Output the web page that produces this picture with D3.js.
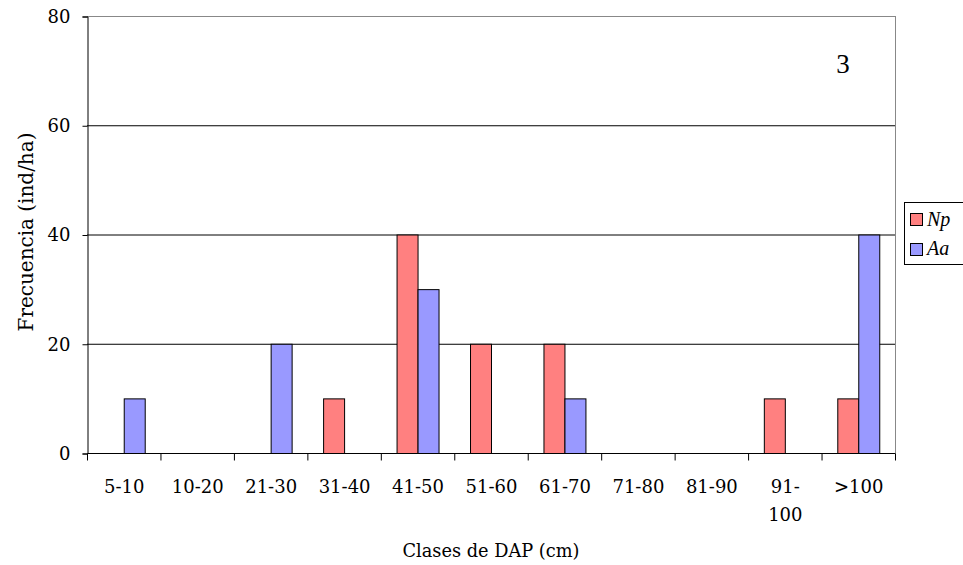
<!DOCTYPE html>
<html><head><meta charset="utf-8">
<script src="https://cdn.jsdelivr.net/npm/d3@7"></script>
<style>body{margin:0;background:#fff}svg{display:block}</style>
</head><body>
<script>
const categories = ["5-10","10-20","21-30","31-40","41-50","51-60","61-70","71-80","81-90","91-100",">100"];
const seriesNames = ["Np","Aa"];
const npValues = [0,0,0,10,40,20,20,0,0,10,10];
const aaValues = [10,0,20,0,30,0,10,0,0,0,40];
const yTicks = [0,20,40,60,80];
const colors = {Np:"#FF8080", Aa:"#9999FF"};

const W=963,H=565;
const m={left:87,right:895,top:16,bottom:453};
const svg=d3.select("body").append("svg").attr("width",W).attr("height",H);
const x=d3.scaleBand().domain(categories).range([m.left,m.right]).padding(0);
const y=d3.scaleLinear().domain([0,80]).range([m.bottom,m.top]);
const groupW=x.bandwidth()*2/3.5;
const xs=d3.scaleBand().domain(seriesNames).range([0,groupW]).padding(0);
const numFont="'DejaVu Serif', Georgia, serif";
const txtFont="'Liberation Serif','Times New Roman', serif";

// gridlines
svg.append("g").selectAll("line").data(yTicks.filter(d=>d>0)).join("line")
  .attr("x1",m.left).attr("x2",m.right).attr("y1",d=>y(d)+0.5).attr("y2",d=>y(d)+0.5)
  .attr("stroke",d=>d===80?"#888":"#000").attr("stroke-width",1);
// right border
svg.append("line").attr("x1",m.right+0.5).attr("x2",m.right+0.5).attr("y1",m.top).attr("y2",m.bottom)
  .attr("stroke","#888");

const data=categories.map((c,i)=>({c,Np:npValues[i],Aa:aaValues[i]}));
const g=svg.append("g");
data.forEach(d=>{
  seriesNames.forEach(s=>{
    if(d[s]>0){
      g.append("rect")
        .attr("x",x(d.c)+(x.bandwidth()-groupW)/2+xs(s)+0.5)
        .attr("y",y(d[s])+0.5)
        .attr("width",xs.bandwidth())
        .attr("height",y(0)-y(d[s]))
        .attr("fill",colors[s]).attr("stroke","#000").attr("stroke-width",1);
    }
  });
});

// y axis
const ya=svg.append("g").attr("transform",`translate(${m.left+0.5},0.5)`)
  .call(d3.axisLeft(y).tickValues(yTicks).tickSize(5).tickPadding(12).tickFormat(d3.format("d")));
ya.select(".domain").attr("stroke","#000");
ya.selectAll("text").attr("font-family",numFont).attr("font-size",18).attr("fill","#000");

// x axis
const xa=svg.append("g").attr("transform",`translate(0.5,${m.bottom+0.5})`);
xa.append("line").attr("x1",m.left).attr("x2",m.right).attr("stroke","#000");
const tickPos=categories.map(c=>x(c)).concat([m.right]);
xa.selectAll("line.t").data(tickPos).join("line").attr("class","t")
  .attr("x1",d=>d).attr("x2",d=>d).attr("y1",0).attr("y2",7).attr("stroke","#000");
xa.selectAll("text").data(categories).join("text")
  .attr("x",d=>x(d)+x.bandwidth()/2).attr("text-anchor","middle")
  .attr("font-family",numFont).attr("font-size",18).attr("fill","#000")
  .each(function(d){
    const t=d3.select(this);
    if(d==="91-100"){
      t.append("tspan").attr("x",x(d)+x.bandwidth()/2).attr("y",39).text("91-");
      t.append("tspan").attr("x",x(d)+x.bandwidth()/2).attr("y",67).text("100");
    } else {
      t.attr("y",39).text(d);
    }
  });

function fitWidth(sel,target){
  const w=sel.node().getComputedTextLength();
  const fs=+sel.attr("font-size");
  sel.attr("font-size",fs*target/w);
}
// axis titles
const yt=svg.append("text").attr("transform","translate(33,232) rotate(-90)")
  .attr("text-anchor","middle").attr("font-family",numFont).attr("font-size",17).text("Frecuencia (ind/ha)");
fitWidth(yt,199);
const xt=svg.append("text").attr("x",491).attr("y",557).attr("text-anchor","middle")
  .attr("font-family",numFont).attr("font-size",17).text("Clases de DAP (cm)");
fitWidth(xt,177);

// panel number
svg.append("text").attr("x",843).attr("y",73).attr("text-anchor","middle")
  .attr("font-family",txtFont).attr("font-size",27).text("3");

// legend
const lg=svg.append("g");
lg.append("rect").attr("x",904.5).attr("y",202.5).attr("width",70).attr("height",62)
  .attr("fill","#fff").attr("stroke","#000");
seriesNames.forEach((s,i)=>{
  lg.append("rect").attr("x",910.5).attr("y",213.5+i*30).attr("width",12).attr("height",12)
    .attr("fill",colors[s]).attr("stroke","#000");
  lg.append("text").attr("x",927).attr("y",226+i*29).attr("font-family",txtFont)
    .attr("font-style","italic").attr("font-size",20).text(s);
});
</script>
</body></html>
